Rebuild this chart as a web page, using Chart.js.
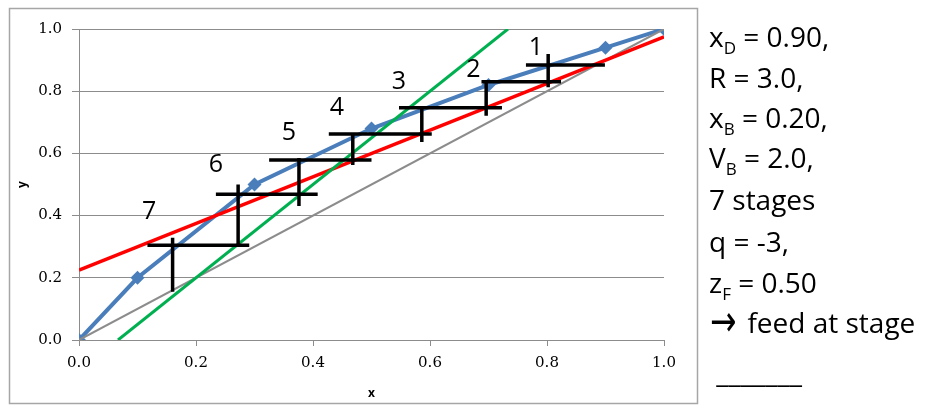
<!DOCTYPE html>
<html>
<head>
<meta charset="utf-8">
<script src="https://cdn.jsdelivr.net/npm/chart.js@4.4.1/dist/chart.umd.min.js"></script>
<style>
  html, body { margin: 0; padding: 0; background: #fff; }
  #wrap { position: relative; width: 947px; height: 413px; overflow: hidden; }
  #c { position: absolute; left: 0; top: 0; }
  .note { position: absolute; left: 709px; font-family: "Open Sans", sans-serif; font-size: 28px;
          line-height: 40px; height: 40px; color: #000; white-space: nowrap; }
  .note .sb { font-size: 17px; position: relative; top: 7px; line-height: 1; }
  .note .ar { display: inline-block; font-family: "DejaVu Sans", sans-serif; font-size: 30px; line-height: 1;
              transform: scale(1.05, 1.45); transform-origin: 50% 60%; margin-left: 2px; margin-right: 4px; }
</style>
</head>
<body>
<div id="wrap">
  <canvas id="c" width="947" height="413"></canvas>
  <div class="note" style="top:16px">x<span class="sb">D</span> = 0.90,</div>
  <div class="note" style="top:57px">R = 3.0,</div>
  <div class="note" style="top:97px">x<span class="sb">B</span> = 0.20,</div>
  <div class="note" style="top:137px">V<span class="sb">B</span> = 2.0,</div>
  <div class="note" style="top:179px">7 stages</div>
  <div class="note" style="top:221px">q = -3,</div>
  <div class="note" style="top:262px">z<span class="sb">F</span> = 0.50</div>
  <div class="note" style="top:302px"><span class="ar">&#8594;</span> feed at stage</div>
  <div class="note" style="top:352px">&nbsp;_______</div>
</div>
<script>
// ---- data ----
const eqX = [0, 0.1, 0.3, 0.5, 0.7, 0.9, 1.0];
const eqY = [0, 0.2, 0.5, 0.68, 0.82, 0.94, 1.0];
const diagX = [0, 1];
const diagY = [0, 1];
const rectX = [0, 1];
const rectY = [0.225, 0.975];
const stripX = [0.0667, 0.7333];
const stripY = [0, 1];

// stage steps: horizontal segment (y, x0..x1) and vertical segment (x, y0..y1)
const stageHy  = [0.884, 0.830, 0.747, 0.662, 0.579, 0.469, 0.305];
const stageHx0 = [0.764, 0.688, 0.547, 0.427, 0.325, 0.234, 0.117];
const stageHx1 = [0.899, 0.824, 0.723, 0.603, 0.500, 0.408, 0.291];
const stageVx  = [0.802, 0.696, 0.586, 0.468, 0.376, 0.272, 0.160];
const stageVy0 = [0.920, 0.836, 0.747, 0.665, 0.585, 0.500, 0.329];
const stageVy1 = [0.813, 0.721, 0.637, 0.563, 0.431, 0.302, 0.155];

const stageLabels = ['1', '2', '3', '4', '5', '6', '7'];
const stageLabelX = [0.781, 0.674, 0.547, 0.441, 0.359, 0.234, 0.120];
const stageLabelY = [0.939, 0.868, 0.830, 0.746, 0.666, 0.563, 0.412];

const tickLabels = ['0.0', '0.2', '0.4', '0.6', '0.8', '1.0'];

// ---- build ----
const pts = (xs, ys) => xs.map((x, i) => ({ x: x, y: ys[i] }));
const stagePts = [];
for (let i = 0; i < stageHy.length; i++) {
  stagePts.push({ x: stageHx0[i], y: stageHy[i] }, { x: stageHx1[i], y: stageHy[i] }, { x: stageHx1[i], y: null });
  stagePts.push({ x: stageVx[i], y: stageVy0[i] }, { x: stageVx[i], y: stageVy1[i] }, { x: stageVx[i], y: null });
}

const framePlugin = {
  id: 'frame',
  beforeDraw(chart) {
    const ctx = chart.ctx;
    ctx.save();
    ctx.fillStyle = '#fff';
    ctx.fillRect(0, 0, chart.width, chart.height);
    ctx.strokeStyle = '#a6a6a6';
    ctx.lineWidth = 1.5;
    ctx.strokeRect(9.5, 8.5, 688, 395);
    ctx.restore();
  }
};

const labelPlugin = {
  id: 'stageLabels',
  afterDatasetsDraw(chart) {
    const ctx = chart.ctx;
    const sx = chart.scales.x, sy = chart.scales.y;
    ctx.save();
    ctx.fillStyle = '#000';
    ctx.font = '25px "Open Sans", sans-serif';
    ctx.textAlign = 'center';
    ctx.textBaseline = 'middle';
    stageLabels.forEach((t, i) => {
      ctx.fillText(t, sx.getPixelForValue(stageLabelX[i]), sy.getPixelForValue(stageLabelY[i]));
    });
    ctx.restore();
  }
};

const tickFont = { family: '"DejaVu Serif", serif', size: 15 };

new Chart(document.getElementById('c'), {
  type: 'scatter',
  data: {
    datasets: [
      { label: 'stages', data: stagePts, showLine: true, borderColor: '#000', borderWidth: 3.5,
        pointRadius: 0, spanGaps: false, order: 0 },
      { label: 'stripping', data: pts(stripX, stripY), showLine: true, borderColor: '#00b050', borderWidth: 3,
        pointRadius: 0, order: 1 },
      { label: 'rectifying', data: pts(rectX, rectY), showLine: true, borderColor: '#ff0000', borderWidth: 3.5,
        pointRadius: 0, order: 2 },
      { label: 'diagonal', data: pts(diagX, diagY), showLine: true, borderColor: '#8c8c8c', borderWidth: 2,
        pointRadius: 0, order: 3 },
      { label: 'equilibrium', data: pts(eqX, eqY), showLine: true, borderColor: '#4a7ebb', borderWidth: 4,
        pointStyle: 'rectRot', pointRadius: 7, pointBackgroundColor: '#4a7ebb', pointBorderColor: '#4a7ebb',
        pointBorderWidth: 0, order: 4 }
    ]
  },
  options: {
    responsive: false,
    animation: false,
    devicePixelRatio: 1,
    layout: { padding: { left: 0, top: 29, right: 283, bottom: 0 } },
    plugins: { legend: { display: false }, tooltip: { enabled: false } },
    scales: {
      x: {
        type: 'linear', min: 0, max: 1,
        afterFit(scale) { scale.height = 73; },
        ticks: { stepSize: 0.2, padding: 8, color: '#000', font: tickFont,
                 callback: (v, i) => tickLabels[i] },
        grid: { drawOnChartArea: false, drawTicks: true, tickLength: 6, color: '#8c8c8c' },
        border: { color: '#8c8c8c', width: 1 },
        title: { display: true, text: 'x', color: '#000',
                 font: { family: '"Open Sans", sans-serif', size: 12, weight: 'bold' },
                 padding: { top: 0, bottom: 12 } }
      },
      y: {
        type: 'linear', min: 0, max: 1,
        afterFit(scale) { scale.width = 79; },
        ticks: { stepSize: 0.2, padding: 10, color: '#000', font: tickFont,
                 callback: (v, i) => tickLabels[i] },
        grid: { drawOnChartArea: true, drawTicks: true, tickLength: 7, color: '#8c8c8c' },
        border: { color: '#8c8c8c', width: 1 },
        title: { display: true, text: 'y', color: '#000',
                 font: { family: '"Open Sans", sans-serif', size: 12, weight: 'bold' },
                 padding: { top: 15, bottom: 0 } }
      }
    }
  },
  plugins: [framePlugin, labelPlugin]
});
</script>
</body>
</html>
